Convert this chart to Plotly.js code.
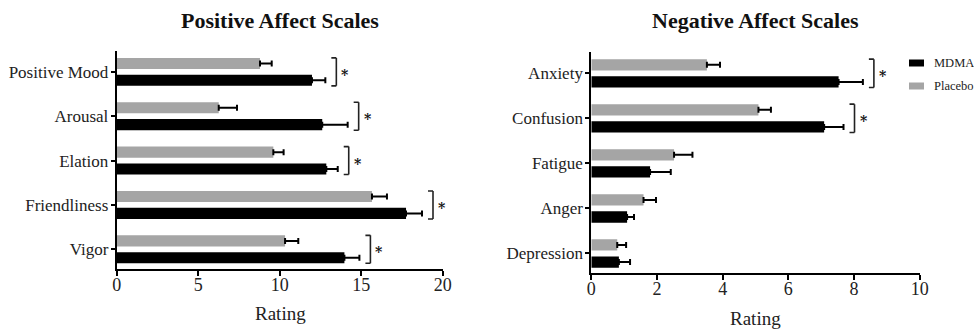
<!DOCTYPE html>
<html>
<head>
<meta charset="utf-8">
<script src="https://cdn.plot.ly/plotly-3.0.1.min.js"></script>
<style>html,body{margin:0;padding:0;background:#fff;}#chart{width:974px;height:329px;}</style>
</head>
<body>
<div id="chart"></div>
<script>
// ---- Data (categories listed top to bottom) ----
const posCats = ['Positive Mood', 'Arousal', 'Elation', 'Friendliness', 'Vigor'];
const posMDMA = [11.98, 12.61, 12.86, 17.75, 13.97];
const posMDMAErr = [0.82, 1.56, 0.70, 0.98, 0.92];
const posPlacebo = [8.79, 6.26, 9.61, 15.66, 10.33];
const posPlaceboErr = [0.72, 1.12, 0.63, 0.92, 0.81];
const posSig = [true, true, true, true, true];
const posTicks = [0, 5, 10, 15, 20];

const negCats = ['Anxiety', 'Confusion', 'Fatigue', 'Anger', 'Depression'];
const negMDMA = [7.53, 7.09, 1.79, 1.09, 0.84];
const negMDMAErr = [0.74, 0.59, 0.63, 0.21, 0.34];
const negPlacebo = [3.52, 5.09, 2.52, 1.59, 0.79];
const negPlaceboErr = [0.40, 0.38, 0.56, 0.38, 0.27];
const negSig = [true, true, false, false, false];
const negTicks = [0, 2, 4, 6, 8, 10];

const seriesNames = ['MDMA', 'Placebo'];
const seriesColors = ['#000000', '#a5a5a5'];

// ---- Styling ----
const FONT = 'Liberation Serif';
const BAR_W = 0.25;
const HALF_SEP = 0.19;
const BR_PAD = 11;   // px from error end to bracket
const BR_TICK = 5;   // px bracket arm length

function idx(cats) { return cats.map((c, i) => cats.length - 1 - i); }

function barTraces(cats, mdma, mdmaErr, plc, plcErr, xa, ya) {
  const y = idx(cats);
  const mk = (vals, errs, k, offset) => ({
    type: 'bar', orientation: 'h', name: seriesNames[k],
    x: vals, y: y, xaxis: xa, yaxis: ya,
    width: BAR_W, offset: offset,
    marker: {color: seriesColors[k], line: {width: 0}},
    error_x: {type: 'data', array: errs, symmetric: false,
              arrayminus: errs.map(() => 0), color: '#000', thickness: 2, width: 3},
    showlegend: false, hoverinfo: 'x+y+name'
  });
  return [
    mk(mdma, mdmaErr, 0, -HALF_SEP - BAR_W / 2),
    mk(plc, plcErr, 1, HALF_SEP - BAR_W / 2)
  ];
}

function sigMarks(cats, mdma, mdmaErr, plc, plcErr, sig, xref, yref) {
  const y = idx(cats);
  const shapes = [], annots = [];
  const top = HALF_SEP + BAR_W / 2;
  cats.forEach((c, i) => {
    if (!sig[i]) return;
    const a = Math.max(mdma[i] + mdmaErr[i], plc[i] + plcErr[i]);
    const ln = {color: '#222', width: 1.6};
    const base = {type: 'line', xref: xref, yref: yref, xsizemode: 'pixel', xanchor: a, line: ln};
    shapes.push(Object.assign({}, base, {x0: BR_PAD, x1: BR_PAD, y0: y[i] - top, y1: y[i] + top}));
    shapes.push(Object.assign({}, base, {x0: BR_PAD - BR_TICK, x1: BR_PAD, y0: y[i] + top, y1: y[i] + top}));
    shapes.push(Object.assign({}, base, {x0: BR_PAD - BR_TICK, x1: BR_PAD, y0: y[i] - top, y1: y[i] - top}));
    annots.push({xref: xref, yref: yref, x: a, y: y[i], xshift: BR_PAD + 3, yshift: -3,
      xanchor: 'left', yanchor: 'middle', text: '<b>*</b>', showarrow: false,
      font: {family: 'DejaVu Serif', size: 14, color: '#111'}});
  });
  return {shapes, annots};
}

const data = [
  ...barTraces(posCats, posMDMA, posMDMAErr, posPlacebo, posPlaceboErr, 'x', 'y'),
  ...barTraces(negCats, negMDMA, negMDMAErr, negPlacebo, negPlaceboErr, 'x2', 'y2')
];

const posSigM = sigMarks(posCats, posMDMA, posMDMAErr, posPlacebo, posPlaceboErr, posSig, 'x', 'y');
const negSigM = sigMarks(negCats, negMDMA, negMDMAErr, negPlacebo, negPlaceboErr, negSig, 'x2', 'y2');

const W = 974, H = 329;
const px = v => v / W;
const py = v => (H - v) / H;

function xAxis(domain, range, ticks) {
  return {domain: domain, range: range, tickvals: ticks, ticktext: ticks.map(String),
    showline: true, linecolor: '#000', linewidth: 2, ticks: 'outside', ticklen: 5,
    tickwidth: 2, tickcolor: '#000', showgrid: false, zeroline: false, fixedrange: true,
    ticklabelstandoff: -7,
    tickfont: {family: FONT, size: 18, color: '#222'}, automargin: false};
}
function yAxis(domain, range, cats) {
  return {domain: domain, range: range, tickvals: idx(cats), ticktext: cats,
    showline: true, linecolor: '#000', linewidth: 2, ticks: 'outside', ticklen: 4,
    tickwidth: 2, tickcolor: '#000', showgrid: false, zeroline: false, fixedrange: true,
    ticklabelstandoff: -1,
    tickfont: {family: FONT, size: 17, color: '#222'}, automargin: false};
}

const legendShapes = [], legendAnn = [];
const legY = [63, 86];
seriesNames.forEach((n, k) => {
  legendShapes.push({type: 'rect', xref: 'paper', yref: 'paper',
    x0: px(909), x1: px(924), y0: py(legY[k] - 3.5), y1: py(legY[k] + 3.5),
    fillcolor: seriesColors[k], line: {width: 0}});
  legendAnn.push({xref: 'paper', yref: 'paper', x: px(932), y: py(legY[k]),
    xanchor: 'left', yanchor: 'middle', text: n, showarrow: false,
    font: {family: FONT, size: 12.5, color: '#222'}});
});

const titleAnn = [
  {xref: 'paper', yref: 'paper', x: px(280), y: py(20), text: '<b>Positive Affect Scales</b>',
   showarrow: false, xanchor: 'center', yanchor: 'middle', font: {family: FONT, size: 22, color: '#111'}},
  {xref: 'paper', yref: 'paper', x: px(755), y: py(20), text: '<b>Negative Affect Scales</b>',
   showarrow: false, xanchor: 'center', yanchor: 'middle', font: {family: FONT, size: 22, color: '#111'}},
  {xref: 'paper', yref: 'paper', x: px(280), y: py(313), text: 'Rating',
   showarrow: false, xanchor: 'center', yanchor: 'middle', font: {family: FONT, size: 19, color: '#222'}},
  {xref: 'paper', yref: 'paper', x: px(755), y: py(318), text: 'Rating',
   showarrow: false, xanchor: 'center', yanchor: 'middle', font: {family: FONT, size: 19, color: '#222'}}
];

const layout = {
  width: W, height: H,
  margin: {l: 0, r: 0, t: 0, b: 0},
  paper_bgcolor: '#fff', plot_bgcolor: '#fff',
  font: {family: FONT},
  barmode: 'overlay',
  showlegend: false,
  xaxis: Object.assign(xAxis([px(116.7), px(442.7)], [0, 20], posTicks), {anchor: 'y'}),
  yaxis: Object.assign(yAxis([py(269.3), py(51)], [-0.45, 4.47], posCats), {anchor: 'x'}),
  xaxis2: Object.assign(xAxis([px(591.3), px(919.7)], [0, 10], negTicks), {anchor: 'y2'}),
  yaxis2: Object.assign(yAxis([py(273.3), py(51.7)], [-0.44, 4.48], negCats), {anchor: 'x2'}),
  shapes: [...posSigM.shapes, ...negSigM.shapes, ...legendShapes],
  annotations: [...posSigM.annots, ...negSigM.annots, ...legendAnn, ...titleAnn]
};

Plotly.newPlot('chart', data, layout, {displayModeBar: false, staticPlot: true});
</script>
</body>
</html>
